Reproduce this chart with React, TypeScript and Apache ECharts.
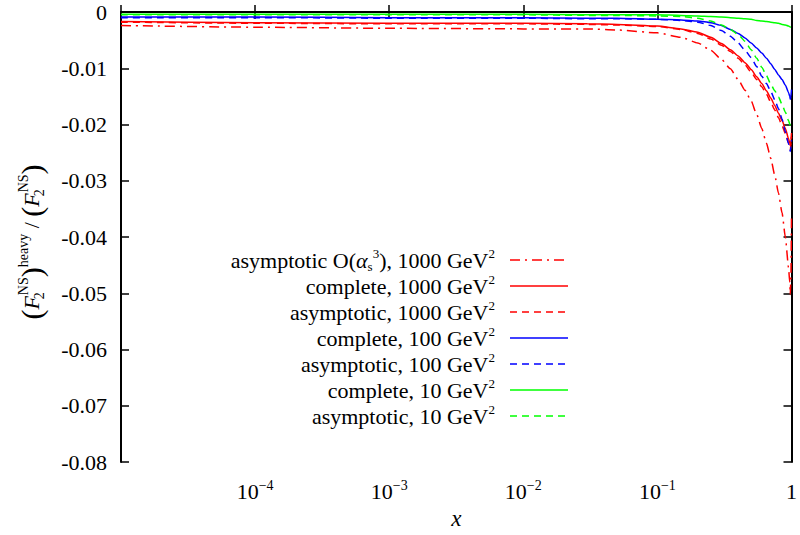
import React, { useEffect, useRef } from "react";
import * as echarts from "echarts";

// x grid (log scale)
const X = [1e-5, 1e-4, 1e-3, 1e-2, 0.03, 0.05, 0.1, 0.15, 0.2, 0.25, 0.3, 0.35, 0.4, 0.45, 0.5, 0.55, 0.6, 0.65, 0.7, 0.75, 0.8, 0.85, 0.9, 0.95, 0.97, 0.98, 0.99, 1];

const asym3_1000 = [-0.0024, -0.0027, -0.0029, -0.0030, -0.0030, -0.0032, -0.0037, -0.0045, -0.0055, -0.0068, -0.0084, -0.0101, -0.0120, -0.0139, -0.0158, -0.0182, -0.0207, -0.0233, -0.0260, -0.0290, -0.0322, -0.0357, -0.0400, -0.0454, -0.0480, -0.0502, -0.0470, -0.0360];
const comp_1000 = [-0.0017, -0.0019, -0.0020, -0.0020, -0.0021, -0.0022, -0.0025, -0.0030, -0.0036, -0.0045, -0.0056, -0.0067, -0.0078, -0.0090, -0.0102, -0.0115, -0.0127, -0.0140, -0.0153, -0.0166, -0.0180, -0.0193, -0.0207, -0.0225, -0.0233, -0.0238, -0.0228, -0.0215];
const asym_1000 = [-0.0018, -0.0020, -0.0021, -0.0021, -0.0022, -0.0023, -0.0026, -0.0031, -0.0038, -0.0048, -0.0059, -0.0070, -0.0082, -0.0094, -0.0107, -0.0120, -0.0133, -0.0146, -0.0160, -0.0174, -0.0188, -0.0202, -0.0216, -0.0233, -0.0240, -0.0245, -0.0236, -0.0222];
const comp_100 = [-0.0009, -0.0009, -0.0010, -0.0010, -0.0011, -0.0011, -0.0013, -0.0014, -0.0016, -0.0019, -0.0024, -0.0031, -0.0038, -0.0046, -0.0055, -0.0064, -0.0073, -0.0082, -0.0092, -0.0102, -0.0112, -0.0120, -0.0130, -0.0143, -0.0150, -0.0155, -0.0150, -0.0138];
const asym_100 = [-0.0010, -0.0010, -0.0011, -0.0011, -0.0012, -0.0012, -0.0013, -0.0015, -0.0018, -0.0024, -0.0033, -0.0043, -0.0055, -0.0068, -0.0081, -0.0097, -0.0114, -0.0127, -0.0141, -0.0156, -0.0172, -0.0190, -0.0213, -0.0234, -0.0243, -0.0248, -0.0240, -0.0228];
const comp_10 = [-0.0004, -0.0004, -0.0004, -0.0004, -0.0005, -0.0005, -0.0005, -0.0006, -0.0007, -0.0008, -0.0009, -0.0010, -0.0011, -0.0012, -0.0013, -0.0015, -0.0016, -0.0017, -0.0018, -0.0019, -0.0020, -0.0022, -0.0023, -0.0025, -0.0026, -0.0026, -0.0027, -0.0027];
const asym_10 = [-0.0005, -0.0005, -0.0005, -0.0005, -0.0006, -0.0006, -0.0007, -0.0008, -0.0011, -0.0016, -0.0023, -0.0031, -0.0040, -0.0052, -0.0067, -0.0082, -0.0098, -0.0113, -0.0128, -0.0140, -0.0151, -0.0164, -0.0178, -0.0193, -0.0199, -0.0202, -0.0202, -0.0200];

const LEGEND_LABELS = [
  "asymptotic O({i|α}{sb|s}{sp|3}), 1000 GeV{sp|2}",
  "complete, 1000 GeV{sp|2}",
  "asymptotic, 1000 GeV{sp|2}",
  "complete, 100 GeV{sp|2}",
  "asymptotic, 100 GeV{sp|2}",
  "complete, 10 GeV{sp|2}",
  "asymptotic, 10 GeV{sp|2}",
];

const Y_AXIS_TITLE = "{p|(}{f|F}{sb|2}{sp|NS}{p|)}{sp|heavy} / {p|(}{f|F}{sb|2}{sp|NS}{p|)}";
const X_AXIS_TITLE = "x";

const Y_MIN = -0.08;
const Y_MAX = 0;
const Y_STEP = 0.01;
const X_MIN = 1e-5;
const X_MAX = 1;

const FONT = "'Liberation Serif', 'DejaVu Serif', serif";
const FS = 22;

const DASHDOT = [10, 5, 2, 5];
const DASHED = [7, 5];

const SERIES = [
  { data: asym3_1000, color: "#ff0000", dash: DASHDOT },
  { data: comp_1000, color: "#ff0000", dash: null },
  { data: asym_1000, color: "#ff0000", dash: DASHED },
  { data: comp_100, color: "#0000ff", dash: null },
  { data: asym_100, color: "#0000ff", dash: DASHED },
  { data: comp_10, color: "#00ff00", dash: null },
  { data: asym_10, color: "#00ff00", dash: DASHED },
];

const RICH = {
  i: { fontFamily: FONT, fontSize: FS, fontStyle: "italic", lineHeight: 26 },
  sb: { fontFamily: FONT, fontSize: 13, verticalAlign: "bottom", lineHeight: 12 },
  sp: { fontFamily: FONT, fontSize: 13, verticalAlign: "top", lineHeight: 10 },
};

export default function App() {
  const ref = useRef<HTMLDivElement>(null);
  useEffect(() => {
    const chart = echarts.init(ref.current!, null, { renderer: "svg" });

    const axisLineStyle = { color: "#000", width: 2 };
    const tickStyle = { color: "#000", width: 1.5 };

    const legendGraphics: any[] = [];
    LEGEND_LABELS.forEach((lab, i) => {
      const y = 260 + 26 * i;
      const s = SERIES[i];
      legendGraphics.push({
        type: "text",
        x: 495,
        y,
        style: {
          text: lab,
          fontFamily: FONT,
          fontSize: FS,
          lineHeight: 26,
          fill: "#000",
          align: "right",
          verticalAlign: "middle",
          rich: RICH,
        },
      });
      legendGraphics.push({
        type: "line",
        shape: { x1: 510, y1: y, x2: 568, y2: y },
        style: { stroke: s.color, lineWidth: 1.5, lineDash: s.dash || undefined },
      });
    });

    const yName = {
      type: "text",
      x: 31,
      y: 242,
      rotation: Math.PI / 2,
      style: {
        text: Y_AXIS_TITLE,
        fontFamily: FONT,
        fontSize: FS,
        lineHeight: 30,
        fill: "#000",
        align: "center",
        verticalAlign: "middle",
        rich: {
          p: { fontFamily: FONT, fontSize: 30, lineHeight: 30 },
          f: { fontFamily: FONT, fontSize: FS, fontStyle: "italic", lineHeight: 30 },
          sb: { fontFamily: FONT, fontSize: 14, width: 1, verticalAlign: "bottom", lineHeight: 14 },
          sp: { fontFamily: FONT, fontSize: 14, verticalAlign: "top", lineHeight: 12 },
        },
      },
    };

    const option: any = {
      animation: false,
      backgroundColor: "#fff",
      grid: { left: 121, right: 3, top: 12, bottom: 68, containLabel: false },
      xAxis: [
        {
          type: "log",
          logBase: 10,
          min: X_MIN,
          max: X_MAX,
          splitNumber: 5,
          position: "bottom",
          axisLine: { show: true, lineStyle: axisLineStyle },
          axisTick: { show: true, inside: true, length: 7, lineStyle: tickStyle },
          splitLine: { show: false },
          minorTick: { show: false },
          axisLabel: {
            margin: 16,
            showMinLabel: true,
            showMaxLabel: true,
            formatter: (v: number) => {
              const e = Math.round(Math.log10(v));
              if (e === -5) return "";
              if (e === 0) return "{b|1}";
              return "{b|10}{s|−" + Math.abs(e) + "}";
            },
            rich: {
              b: { fontFamily: FONT, fontSize: FS, color: "#000", lineHeight: 26 },
              s: { fontFamily: FONT, fontSize: 14, color: "#000", verticalAlign: "top", lineHeight: 10 },
            },
          },
          name: X_AXIS_TITLE,
          nameLocation: "middle",
          nameGap: 42,
          nameTextStyle: { fontFamily: FONT, fontSize: 23, fontStyle: "italic", color: "#000" },
        },
        {
          type: "log",
          logBase: 10,
          min: X_MIN,
          max: X_MAX,
          splitNumber: 5,
          position: "top",
          axisLine: { show: true, lineStyle: axisLineStyle },
          axisTick: { show: true, inside: true, length: 7, lineStyle: tickStyle },
          splitLine: { show: false },
          axisLabel: { show: false },
        },
      ],
      yAxis: [
        {
          type: "value",
          min: Y_MIN,
          max: Y_MAX,
          interval: Y_STEP,
          position: "left",
          axisLine: { show: true, lineStyle: axisLineStyle },
          axisTick: { show: true, inside: true, length: 8, lineStyle: tickStyle },
          splitLine: { show: false },
          axisLabel: {
            margin: 14,
            fontFamily: FONT,
            fontSize: FS,
            color: "#000",
            formatter: (v: number) => (Math.abs(v) < 1e-9 ? "0" : v.toFixed(2)),
          },
        },
        {
          type: "value",
          min: Y_MIN,
          max: Y_MAX,
          interval: Y_STEP,
          position: "right",
          axisLine: { show: true, lineStyle: axisLineStyle },
          axisTick: { show: true, inside: true, length: 8, lineStyle: tickStyle },
          splitLine: { show: false },
          axisLabel: { show: false },
        },
      ],
      series: SERIES.map((s) => ({
        type: "line",
        xAxisIndex: 0,
        yAxisIndex: 0,
        data: X.map((x, i) => [x, s.data[i]]),
        showSymbol: false,
        symbol: "none",
        smooth: 0.2,
        smoothMonotone: "x",
        lineStyle: { color: s.color, width: 1.5, type: s.dash || "solid" },
      })),
      graphic: [...legendGraphics, yName],
    };

    chart.setOption(option);
    return () => chart.dispose();
  }, []);
  return <div ref={ref} style={{ position: "fixed", left: 0, top: 0, width: 800, height: 535 }} />;
}
